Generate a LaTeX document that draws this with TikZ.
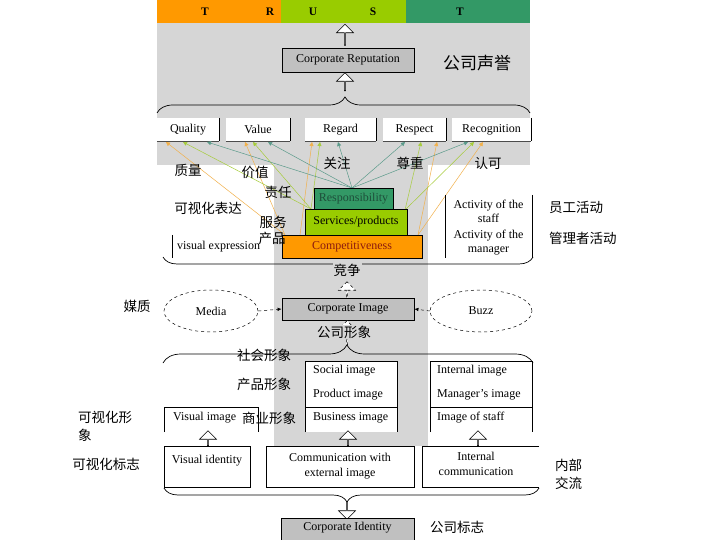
\documentclass[tikz,border=0pt]{standalone}
\usepackage{fontspec}
\setmainfont{Liberation Serif}
\newfontfamily\cjk{Noto Sans CJK SC}
\usetikzlibrary{shapes.arrows,shapes.geometric,decorations.pathreplacing,arrows.meta}
\definecolor{orgc}{HTML}{FF9900}
\definecolor{lgrc}{HTML}{99CC00}
\definecolor{dgrc}{HTML}{339966}
\definecolor{boxgray}{HTML}{C0C0C0}
\definecolor{chk}{HTML}{D6D6D6}
\definecolor{lorg}{HTML}{F2B04A}
\definecolor{lgrn}{HTML}{A6CC3A}
\definecolor{lteal}{HTML}{5A9A8A}
\definecolor{maroonc}{HTML}{8B1A10}
\definecolor{respc}{HTML}{1E4E3A}
\begin{document}
\begin{tikzpicture}[x=1pt,y=-1pt,
  en/.style={font=\fontsize{12}{14}\selectfont, inner sep=0pt},
  zh/.style={font=\cjk\fontsize{13.5}{18}\selectfont, inner sep=0pt},
  gbox/.style={draw=black, fill=boxgray, line width=0.8pt, font=\fontsize{12}{14}\selectfont, inner sep=0pt},
  wbox/.style={fill=white, inner sep=0pt, font=\fontsize{12}{14}\selectfont},
  stackbox/.style={draw=black, line width=0.8pt, inner sep=0pt, font=\fontsize{12}{14}\selectfont},
  harrow/.style={single arrow, draw=black, fill=white, line width=0.6pt, minimum width=17pt, single arrow head extend=4pt, single arrow head indent=0pt, single arrow tip angle=90, inner sep=0pt},
  lnk/.style={line width=0.5pt, -{Triangle[length=4pt,width=4pt]}},
  bl/.style={line width=0.7pt},
  barletter/.style={font=\bfseries\fontsize{11.5}{12}\selectfont, inner sep=0pt},
]
\fill[white] (0,0) rectangle (720,540);
\useasboundingbox (0,0) rectangle (720,540);
% checker background
\fill[chk] (157,23) rectangle (530,165);
\fill[chk] (274,165) rectangle (428,446);

% top bar
\node[fill=orgc, minimum width=124pt, minimum height=23pt, inner sep=0pt, anchor=north west] (barA) at (157,0) {};
\node[fill=lgrc, minimum width=125pt, minimum height=23pt, inner sep=0pt, anchor=north west] (barB) at (281,0) {};
\node[fill=dgrc, minimum width=124pt, minimum height=23pt, inner sep=0pt, anchor=north west] (barC) at (406,0) {};
\node[barletter] (l1) at (205,12) {T};
\node[barletter] (l2) at (270,12) {R};
\node[barletter] (l3) at (313,12) {U};
\node[barletter] (l4) at (373,12) {S};
\node[barletter] (l5) at (460,12) {T};

% corporate reputation
\node[gbox, minimum width=132pt, minimum height=24pt] (rep) at (348,60) {Corporate Reputation};
\node[zh, font=\cjk\fontsize{17}{18}\selectfont] (repzh) at (477,63) {公司声誉};
\node[harrow, rotate=90, minimum height=21pt] (a1) at (345,35) {};
\node[harrow, rotate=90, minimum height=18pt] (a2) at (345,82) {};
\draw[bl, decorate, decoration={brace, amplitude=16pt, aspect=0.504}] (157,113) -- (530,113);

% five attribute boxes
\node[wbox, minimum width=62pt, minimum height=23pt] (qual) at (188,129.5) {Quality};
\node[wbox, minimum width=64pt, minimum height=23pt] (valu) at (258,129.5) {Value};
\node[wbox, minimum width=71pt, minimum height=23pt] (rega) at (340.5,129.5) {Regard};
\node[wbox, minimum width=63pt, minimum height=23pt] (resp2) at (414.5,129.5) {Respect};
\node[wbox, minimum width=79pt, minimum height=23pt] (reco) at (491.5,129.5) {Recognition};
\foreach \b in {qual,valu,rega,resp2,reco}{
  \draw[line width=0.8pt] (\b.north east) -- (\b.south east);
  \draw[line width=0.4pt, black!70] (\b.south west) -- (\b.south east);
}

% convergence points on the stack
\coordinate (tT) at (352,188);
\coordinate (gL) at (311,209);
\coordinate (gR) at (405,210);
\coordinate (oL) at (285,235);
\coordinate (oL2) at (300,235);
\coordinate (oR) at (418,235);
% arrow ends under the boxes
\coordinate (qO) at (166,142); \coordinate (qG) at (183,142); \coordinate (qT) at (207,142);
\coordinate (vO) at (245,142); \coordinate (vG) at (253,142); \coordinate (vT) at (268,142);
\coordinate (gO) at (312,142); \coordinate (gG) at (320,142); \coordinate (gT) at (338,142);
\coordinate (pT) at (405,142); \coordinate (pG) at (421,142); \coordinate (pO) at (437,142);
\coordinate (cT) at (468,142); \coordinate (cG) at (474,142); \coordinate (cO) at (483,142);

\draw[lnk, lorg] (oL) -- (qO);
\draw[lnk, lorg] (oL) -- (vO);
\draw[lnk, lorg] (oL2) -- (gO);
\draw[lnk, lorg] (oR) -- (pO);
\draw[lnk, lorg] (oR) -- (cO);
\draw[lnk, lgrn] (gL) -- (qG);
\draw[lnk, lgrn] (gL) -- (vG);
\draw[lnk, lgrn] (gL) -- (gG);
\draw[lnk, lgrn] (gR) -- (pG);
\draw[lnk, lgrn] (gR) -- (cG);
\draw[lnk, lteal] (tT) -- (qT);
\draw[lnk, lteal] (tT) -- (vT);
\draw[lnk, lteal] (tT) -- (gT);
\draw[lnk, lteal] (tT) -- (pT);
\draw[lnk, lteal] (tT) -- (cT);

% stacked boxes
\node[stackbox, fill=orgc, text=maroonc, minimum width=140pt, minimum height=23pt] (comp) at (352,246.5) {Competitiveness};
\node[stackbox, fill=lgrc, minimum width=102pt, minimum height=26pt] (serv) at (356,222) {Services/products};
\node[stackbox, fill=dgrc, text=respc, minimum width=79pt, minimum height=21pt] (resp) at (353.5,198.5) {Responsibility};

% chinese labels row
\node[zh] (zl1) at (188,170) {质量};
\node[zh] (zl2) at (255,172) {价值};
\node[zh] (zl3) at (337,163) {关注};
\node[zh] (zl4) at (410,163) {尊重};
\node[zh] (zl5) at (488,163) {认可};
\node[zh] (zl6) at (278,192) {责任};
\node[zh] (zl7) at (208,208) {可视化表达};
\node[zh] (zl8) at (273,222) {服务};
\node[zh] (zl9) at (272,238) {产品};

% visual expression & activities
\node[wbox, fill=none, minimum width=93pt, minimum height=23pt] (vexp) at (218.5,246.5) {visual expression};
\draw[line width=0.6pt] (vexp.north west) -- (vexp.south west);
\node[wbox, align=center, minimum width=87pt, minimum height=32pt] (astaff) at (488.5,211) {Activity of the\\staff};
\node[wbox, align=center, minimum width=87pt, minimum height=31pt] (amgr) at (488.5,242.5) {Activity of the\\manager};
\draw[line width=0.6pt] (astaff.north west) -- (amgr.south west);
\draw[line width=0.6pt] (astaff.north east) -- (astaff.south east);
\draw[line width=0.6pt] (amgr.north east) -- (amgr.south east);
\node[zh, anchor=west] (zr1) at (549,207) {员工活动};
\node[zh, anchor=west] (zr2) at (549,238) {管理者活动};

% competition brace
\draw[bl, decorate, decoration={brace, amplitude=14pt, aspect=0.503}] (533,257) -- (163,257);
\node[zh, fill=chk, inner sep=1pt] (jz) at (347,270) {竞争};

% corporate image row
\node[gbox, minimum width=132pt, minimum height=22pt] (cimg) at (348,309) {Corporate Image};
\node[harrow, dashed, rotate=90, minimum height=16pt] (a3) at (347,290) {};
\node[harrow, dashed, rotate=90, minimum height=24pt] (a4) at (347,333) {};
\node[zh, fill=chk, inner sep=1pt] (cimgzh) at (344,332) {公司形象};
\node[ellipse, draw, dashed, line width=0.5pt, minimum width=94pt, minimum height=42pt, en] (media) at (211,311) {Media};
\node[ellipse, draw, dashed, line width=0.5pt, minimum width=102pt, minimum height=42pt, en] (buzz) at (481,311) {Buzz};
\draw[dashed, line width=0.5pt, -{Latex[length=4pt,width=3.5pt]}] (media.east) -- (cimg.west);
\draw[dashed, line width=0.5pt, -{Latex[length=4pt,width=3.5pt]}] (buzz.west) -- (cimg.east);
\node[zh] (mz) at (137,306) {媒质};

% image brace
\draw[bl, decorate, decoration={brace, amplitude=18pt, aspect=0.497}] (163,363) -- (533,363);

% image boxes
\fill[white] (305,361) rectangle (397,432);
\draw[line width=0.6pt] (305,432) -- (305,361) -- (397,361) -- (397,432);
\draw[line width=0.6pt] (305,407) -- (397,407);
\draw[line width=0.6pt] (430,432) -- (430,361) -- (532,361) -- (532,432);
\draw[line width=0.6pt] (430,407) -- (532,407);
\draw[line width=0.6pt] (164,432) -- (164,407) -- (258,407) -- (258,432);
\node[en, anchor=west] (si) at (313,371) {Social image};
\node[en, anchor=west] (pi) at (313,395) {Product image};
\node[en, anchor=west] (bi) at (313,418) {Business image};
\node[en, anchor=west] (ii) at (437,371) {Internal image};
\node[en, anchor=west] (mi) at (437,395) {Manager’s image};
\node[en, anchor=west] (sti) at (437,418) {Image of staff};
\node[en, anchor=west] (vi) at (173,418) {Visual image};
\node[zh] (z1) at (264,355) {社会形象};
\node[zh] (z2) at (264,384) {产品形象};
\node[zh] (z3) at (269,418) {商业形象};
\node[zh, align=left, anchor=west] (z4) at (78,426) {可视化形\\象};

% up arrows
\node[harrow, rotate=90, minimum height=15pt] (u1) at (208,438.5) {};
\node[harrow, rotate=90, minimum height=15pt] (u2) at (348,438.5) {};
\node[harrow, rotate=90, minimum height=15pt] (u3) at (478,438.5) {};

% identity boxes
\node[draw, line width=0.6pt, fill=white, align=center, minimum width=86pt, minimum height=41pt, font=\fontsize{12}{15}\selectfont, inner sep=0pt] (vid) at (207,466.5) {Visual identity\\ \mbox{}};
\node[draw, line width=0.6pt, fill=white, align=center, minimum width=148pt, minimum height=41pt, font=\fontsize{12}{15}\selectfont, inner sep=0pt] (cext) at (340,466.5) {Communication with\\external image};
\node[align=center, font=\fontsize{12}{15}\selectfont, inner sep=0pt] (icom) at (476,464) {Internal\\communication};
\draw[line width=0.6pt] (539,446) -- (422,446) -- (422,487) -- (539,487);
\node[zh] (z5) at (106,464) {可视化标志};
\node[zh, align=left, anchor=west] (z6) at (555,474) {内部\\交流};

% bottom brace and identity
\draw[bl, decorate, decoration={brace, amplitude=14pt, aspect=0.512}] (539,488) -- (164,488);
\node[harrow, rotate=-90, minimum height=18pt] (d1) at (347,510) {};
\node[gbox, anchor=north, minimum width=133pt, text height=8pt, text depth=14pt, inner ysep=4.5pt] (cid) at (347.5,518) {Corporate Identity};
\node[zh] (cidzh) at (457,527) {公司标志};
\end{tikzpicture}
\end{document}
